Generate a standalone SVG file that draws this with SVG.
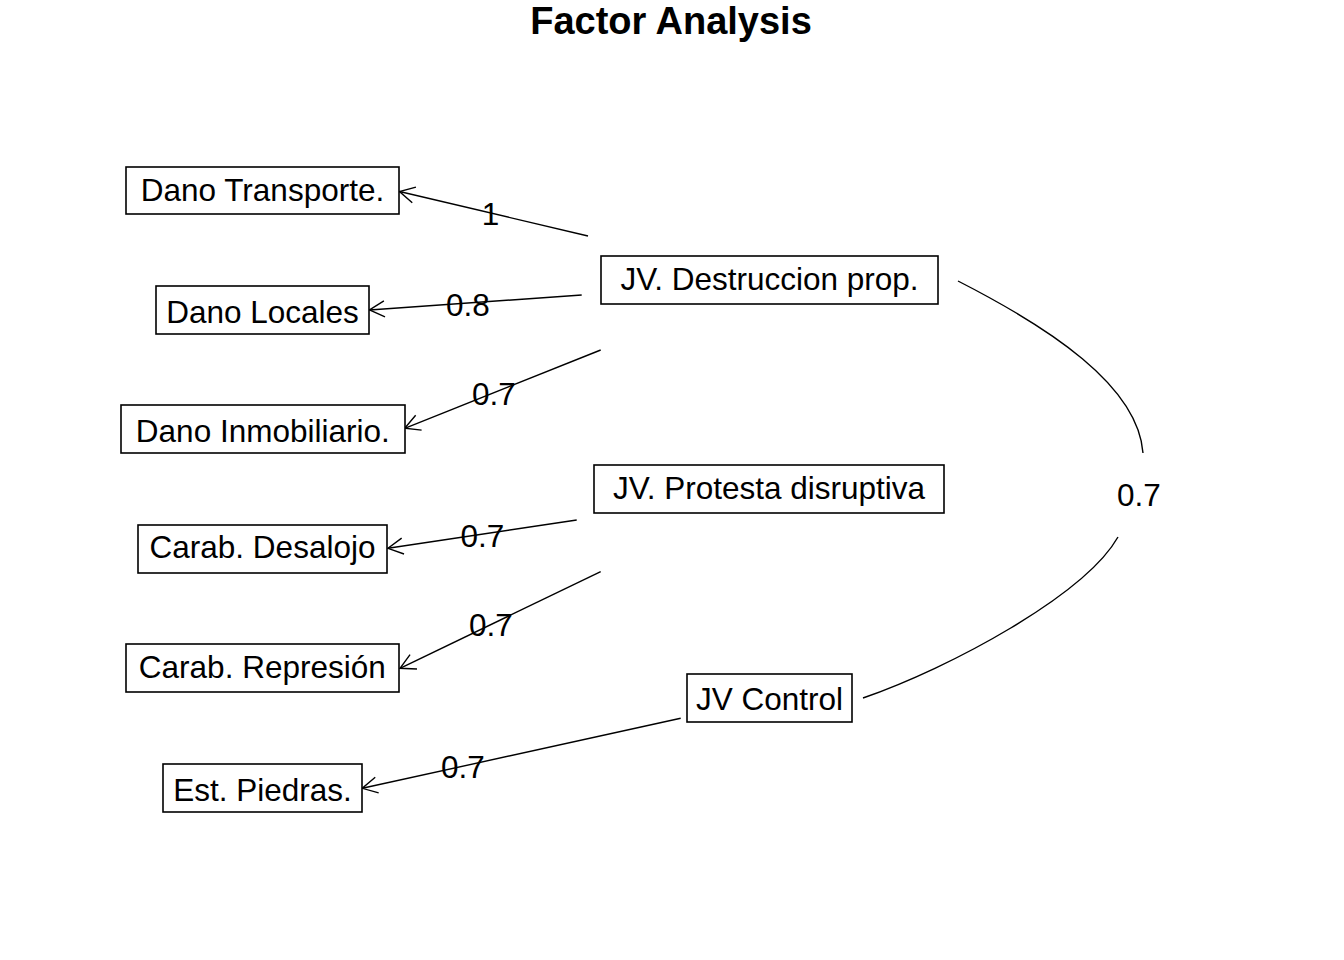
<svg xmlns="http://www.w3.org/2000/svg" width="1344" height="960" viewBox="0 0 1344 960">
<style>
  .box { fill: #ffffff; stroke: #000000; stroke-width: 1.6; }
  .lbl { font-family: "Liberation Sans", Arial, sans-serif; font-size: 31.5px; fill: #000000; text-anchor: middle; }
  .title { font-family: "Liberation Sans", Arial, sans-serif; font-size: 38px; font-weight: bold; fill: #000000; text-anchor: middle; }
  .edge { fill: none; stroke: #000000; stroke-width: 1.4; }
</style>
<defs>
  <marker id="arr" markerUnits="userSpaceOnUse" viewBox="-18 -10 20 20" refX="0" refY="0" markerWidth="20" markerHeight="20" orient="auto">
    <path d="M-15,-8 L0,0 L-15,8" fill="none" stroke="#000000" stroke-width="1.4"/>
  </marker>
</defs>
<rect width="1344" height="960" fill="#ffffff"/>
<text class="title" x="671" y="34">Factor Analysis</text>

<g id="connectors">
  <line class="edge" x1="588" y1="236" x2="399.5" y2="191.5" marker-end="url(#arr)"/>
  <line class="edge" x1="581.7" y1="295" x2="369.5" y2="310" marker-end="url(#arr)"/>
  <line class="edge" x1="600.7" y1="350" x2="404.7" y2="428.3" marker-end="url(#arr)"/>
  <line class="edge" x1="576.7" y1="520" x2="388" y2="548.3" marker-end="url(#arr)"/>
  <line class="edge" x1="600.7" y1="571.7" x2="400" y2="668.3" marker-end="url(#arr)"/>
  <line class="edge" x1="680.7" y1="718.3" x2="362.3" y2="788.3" marker-end="url(#arr)"/>
  <path class="edge" d="M958,281 C1048,327 1138,385 1143,453"/>
  <path class="edge" d="M1118,537 C1085,595 950,668 863,698"/>
  <text class="lbl" x="490.5" y="225">1</text>
  <text class="lbl" x="468" y="315.5">0.8</text>
  <text class="lbl" x="494" y="405">0.7</text>
  <text class="lbl" x="482.5" y="546.5">0.7</text>
  <text class="lbl" x="491" y="635.5">0.7</text>
  <text class="lbl" x="463" y="777.5">0.7</text>
  <text class="lbl" x="1139" y="505.5">0.7</text>
</g>

<g id="node-dano-transporte">
  <rect class="box" x="126" y="167" width="273" height="47"/>
  <text class="lbl" x="262.5" y="201">Dano Transporte.</text>
</g>
<g id="node-dano-locales">
  <rect class="box" x="156" y="286" width="213" height="48"/>
  <text class="lbl" x="262.5" y="322.5">Dano Locales</text>
</g>
<g id="node-dano-inmobiliario">
  <rect class="box" x="121" y="405" width="284" height="48"/>
  <text class="lbl" x="262.8" y="441.7">Dano Inmobiliario.</text>
</g>
<g id="node-carab-desalojo">
  <rect class="box" x="138" y="525" width="249" height="48"/>
  <text class="lbl" x="262.5" y="558">Carab. Desalojo</text>
</g>
<g id="node-carab-represion">
  <rect class="box" x="126" y="644" width="273" height="48"/>
  <text class="lbl" x="262.3" y="678.3">Carab. Represión</text>
</g>
<g id="node-est-piedras">
  <rect class="box" x="163" y="764" width="199" height="48"/>
  <text class="lbl" x="262.5" y="800.7">Est. Piedras.</text>
</g>
<g id="node-jv-destruccion">
  <rect class="box" x="601" y="256" width="337" height="48"/>
  <text class="lbl" x="769.5" y="289.5">JV. Destruccion prop.</text>
</g>
<g id="node-jv-protesta">
  <rect class="box" x="594" y="465" width="350" height="48"/>
  <text class="lbl" x="769" y="498.5">JV. Protesta disruptiva</text>
</g>
<g id="node-jv-control">
  <rect class="box" x="687" y="674" width="165" height="48"/>
  <text class="lbl" x="769.5" y="710">JV Control</text>
</g>
</svg>
